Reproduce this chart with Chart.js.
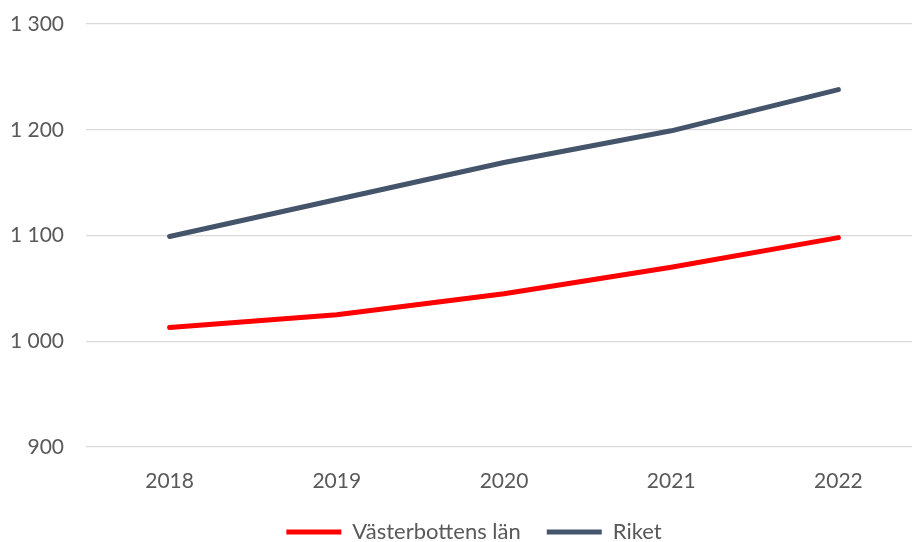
<!DOCTYPE html>
<html>
<head>
<meta charset="utf-8">
<script src="https://cdn.jsdelivr.net/npm/chart.js@4"></script>
<style>
  html, body { margin: 0; padding: 0; background: #fff; overflow: hidden; }
  #wrap { width: 922px; height: 542px; }
</style>
</head>
<body>
<div id="wrap"><canvas id="chart" width="922" height="542"></canvas></div>
<script>
// data
const years = ["2018", "2019", "2020", "2021", "2022"];
const vasterbotten = [1013, 1025, 1045, 1070, 1098];
const riket = [1099, 1134, 1169, 1199, 1238];
const yTicks = [900, 1000, 1100, 1200, 1300];

const fontFamily = "Lato, 'Open Sans', sans-serif";
const textColor = "#595959";

// "1 300" style labels
function fmt(v) {
    if (v < 1000) return String(v);
    return Math.floor(v / 1000) + " " + String(v % 1000).padStart(3, "0");
}

// nudge the legend a bit right, like the original
const legendShift = {
    id: "legendShift",
    afterLayout(chart) {
        if (chart.legend) {
            chart.legend.left += 13;
            chart.legend.right += 13;
        }
    }
};

new Chart(document.getElementById("chart"), {
    type: "line",
    data: {
        labels: years,
        datasets: [
            {
                label: "Västerbottens län",
                data: vasterbotten,
                borderColor: "#FF0000",
                backgroundColor: "#FF0000",
                borderWidth: 5,
                borderCapStyle: "round",
                borderJoinStyle: "round",
                pointRadius: 0,
                pointStyle: "line",
                tension: 0,
                fill: false
            },
            {
                label: "Riket",
                data: riket,
                borderColor: "#44546A",
                backgroundColor: "#44546A",
                borderWidth: 5,
                borderCapStyle: "round",
                borderJoinStyle: "round",
                pointRadius: 0,
                pointStyle: "line",
                tension: 0,
                fill: false
            }
        ]
    },
    options: {
        responsive: false,
        animation: false,
        layout: { padding: { top: 24, left: 0, right: 0, bottom: -11 } },
        plugins: {
            tooltip: { enabled: false },
            legend: {
                position: "bottom",
                labels: {
                    usePointStyle: true,
                    pointStyleWidth: 55,
                    boxHeight: 5,
                    padding: 26,
                    color: textColor,
                    font: { family: fontFamily, size: 22 }
                }
            }
        },
        scales: {
            x: {
                offset: true,
                grid: { display: false },
                border: { display: false },
                ticks: {
                    color: textColor,
                    padding: 14,
                    maxRotation: 0,
                    font: { family: fontFamily, size: 21 }
                },
                afterFit(scale) { scale.height = 48; }
            },
            y: {
                min: 900,
                max: 1300,
                afterBuildTicks(scale) { scale.ticks = yTicks.map(v => ({ value: v })); },
                grid: { color: "#D9D9D9", lineWidth: 1.3, drawTicks: false },
                border: { display: false },
                ticks: {
                    color: textColor,
                    padding: 22,
                    font: { family: fontFamily, size: 21 },
                    callback: v => fmt(v)
                },
                afterFit(scale) {
                    scale.width = 86;
                    // tick padding should not push the plot area down
                    scale.paddingTop = 0;
                    scale.paddingBottom = 0;
                }
            }
        }
    },
    plugins: [legendShift]
});
</script>
</body>
</html>
